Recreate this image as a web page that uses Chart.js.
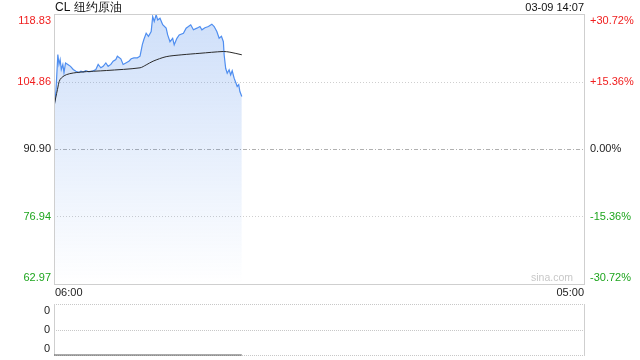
<!DOCTYPE html>
<html><head><meta charset="utf-8">
<script src="https://cdn.jsdelivr.net/npm/chart.js@4/dist/chart.umd.min.js"></script>
<style>
html,body{margin:0;padding:0;background:#fff;}
#wrap{position:relative;width:640px;height:360px;overflow:hidden;}
canvas{position:absolute;left:0;}
</style></head><body>
<div id="wrap">
<canvas id="main" width="640" height="300" style="top:0;width:640px;height:300px"></canvas>
<canvas id="vol" width="640" height="60" style="top:300px;width:640px;height:60px"></canvas>
</div>
<script>
const title = 'CL 纽约原油';
const stamp = '03-09 14:07';
const watermark = 'sina.com';
const timeLabels = ['06:00', '05:00'];
const sessionMinutes = [0, 1380];
const prevClose = 90.90;
const priceTicks = [118.83, 104.86, 90.90, 76.94, 62.97];
const pctLabels = ['+30.72%', '+15.36%', '0.00%', '-15.36%', '-30.72%'];

const minutes = [0, 5, 10, 13, 16, 19, 23, 26, 30, 36, 43, 50, 57, 65, 70, 76, 83, 91, 100, 109, 115, 122, 128, 135, 141, 148, 154, 161, 165, 174, 180, 187, 195, 201, 208, 217, 224, 230, 234, 240, 246, 253, 257, 261, 266, 270, 276, 283, 292, 296, 302, 309, 313, 320, 326, 337, 344, 350, 356, 363, 372, 380, 385, 393, 402, 411, 417, 424, 430, 436, 441, 443, 447, 451, 456, 460, 464, 469, 474, 477, 481, 484, 489];
const prices = [99.5, 102.8, 110.45, 108.4, 109.4, 107.35, 108.4, 106.7, 108.7, 108.4, 108.0, 107.35, 107.0, 106.7, 107.0, 106.8, 107.1, 106.87, 107.0, 107.35, 108.4, 107.7, 108.0, 108.7, 108.0, 108.4, 109.06, 109.4, 110.1, 109.56, 108.4, 108.7, 109.06, 109.56, 109.76, 109.76, 110.1, 112.5, 113.55, 114.86, 114.2, 115.2, 118.31, 117.3, 118.66, 117.6, 117.96, 116.6, 115.9, 114.5, 113.1, 113.8, 112.46, 113.8, 114.5, 114.86, 115.9, 116.24, 116.6, 115.56, 115.9, 116.24, 115.56, 116.0, 116.24, 116.72, 116.24, 115.2, 113.8, 114.2, 113.1, 110.39, 107.6, 106.58, 107.3, 106.25, 107.08, 105.55, 104.5, 103.83, 104.2, 102.8, 101.76];

const avgMinutes = [0, 9, 16, 33, 68, 137, 224, 240, 258, 292, 333, 380, 441, 458, 489];
const avgPrices = [99.7, 103.2, 105.3, 106.3, 106.8, 107.14, 107.7, 108.3, 109.07, 110.0, 110.39, 110.7, 111.07, 110.93, 110.39];

const volMinutes = [0, 489];
const volumes = [0, 0];
const volTickLabels = ['0', '0', '0'];

const FONT = "'Liberation Sans', Arial, sans-serif";
const RED = '#f01e1e', GREEN = '#1ea51e', BLACK = '#222';

function pts(xs, ys) { return xs.map((x, i) => ({x: x, y: ys[i]})); }

function hline(ctx, x1, x2, y, color, dash) {
  ctx.save();
  ctx.strokeStyle = color; ctx.lineWidth = 1; ctx.setLineDash(dash);
  ctx.beginPath(); ctx.moveTo(x1, Math.round(y) + 0.5); ctx.lineTo(x2, Math.round(y) + 0.5); ctx.stroke();
  ctx.restore();
}
function vline(ctx, x, y1, y2, color) {
  ctx.save();
  ctx.strokeStyle = color; ctx.lineWidth = 1;
  ctx.beginPath(); ctx.moveTo(Math.round(x) + 0.5, y1); ctx.lineTo(Math.round(x) + 0.5, y2); ctx.stroke();
  ctx.restore();
}

const mainDeco = {
  id: 'mainDeco',
  beforeDatasetsDraw(chart) {
    const {ctx, chartArea: a, scales: {y}} = chart;
    priceTicks.forEach((v, i) => {
      if (i === 0 || i === priceTicks.length - 1) return;
      const py = y.getPixelForValue(v);
      if (v === prevClose) hline(ctx, a.left, a.right, py, '#b0b0b0', [4, 2, 1, 2]);
      else hline(ctx, a.left, a.right, py, '#cfcfcf', [1, 2]);
    });
  },
  afterDraw(chart) {
    const {ctx, chartArea: a, scales: {x, y}} = chart;
    ctx.save();
    ctx.strokeStyle = '#cfcfcf'; ctx.lineWidth = 1; ctx.setLineDash([]);
    ctx.strokeRect(Math.round(a.left) + 0.5, Math.round(a.top) + 0.5, Math.round(a.right - a.left), Math.round(a.bottom - a.top));
    ctx.font = '11px ' + FONT;
    ctx.textBaseline = 'middle';
    const n = priceTicks.length;
    priceTicks.forEach((v, i) => {
      let py = y.getPixelForValue(v);
      if (i === 0) py += 6.5; else if (i === n - 1) py -= 6;
      const col = v > prevClose ? RED : (v < prevClose ? GREEN : BLACK);
      ctx.fillStyle = col;
      ctx.textAlign = 'right';
      ctx.fillText(v.toFixed(2), a.left - 3, py);
      ctx.textAlign = 'left';
      ctx.fillText(pctLabels[i], a.right + 6, py);
    });
    ctx.fillStyle = '#222';
    ctx.textAlign = 'left';
    ctx.fillText(timeLabels[0], x.getPixelForValue(sessionMinutes[0]) + 1, a.bottom + 9);
    ctx.textAlign = 'right';
    ctx.fillText(timeLabels[1], x.getPixelForValue(sessionMinutes[1]), a.bottom + 9);
    ctx.fillStyle = '#c8c8c8';
    ctx.font = '10.5px ' + FONT;
    ctx.fillText(watermark, a.right - 11, a.bottom - 5.5);
    ctx.fillStyle = '#111';
    ctx.font = '12px ' + FONT;
    ctx.textAlign = 'left';
    ctx.fillText(title, a.left + 1, 8);
    ctx.font = '11px ' + FONT;
    ctx.textAlign = 'right';
    ctx.fillText(stamp, a.right, 7.5);
    ctx.restore();
  }
};

new Chart(document.getElementById('main'), {
  type: 'line',
  data: {
    datasets: [
      {
        data: pts(avgMinutes, avgPrices),
        borderColor: '#2a2a2a', borderWidth: 1, pointRadius: 0, tension: 0.3, fill: false
      },
      {
        data: pts(minutes, prices),
        borderColor: '#4f8ef0', borderWidth: 1.2, pointRadius: 0, tension: 0,
        fill: 'start',
        backgroundColor(ctx) {
          const a = ctx.chart.chartArea;
          if (!a) return 'rgba(80,140,240,0.2)';
          const g = ctx.chart.ctx.createLinearGradient(0, a.top, 0, a.bottom);
          g.addColorStop(0, 'rgba(80,140,235,0.28)');
          g.addColorStop(0.5, 'rgba(80,140,235,0.14)');
          g.addColorStop(1, 'rgba(80,140,235,0.0)');
          return g;
        }
      }
    ]
  },
  options: {
    responsive: false, animation: false, devicePixelRatio: 1,
    layout: {padding: {left: 54, right: 56, top: 14, bottom: 16}},
    plugins: {legend: {display: false}, tooltip: {enabled: false}},
    scales: {
      x: {type: 'linear', min: sessionMinutes[0], max: sessionMinutes[1], display: false},
      y: {min: priceTicks[priceTicks.length - 1], max: priceTicks[0], display: false}
    }
  },
  plugins: [mainDeco]
});

const volDeco = {
  id: 'volDeco',
  beforeDatasetsDraw(chart) {
    const {ctx, chartArea: a} = chart;
    [a.top, (a.top + a.bottom) / 2, a.bottom].forEach(py => hline(ctx, a.left, a.right, py, '#c8c8c8', [1, 1]));
    vline(ctx, a.left, a.top, a.bottom + 1, '#cfcfcf');
    vline(ctx, a.right, a.top, a.bottom + 1, '#cfcfcf');
  },
  afterDraw(chart) {
    const {ctx, chartArea: a} = chart;
    ctx.save();
    ctx.font = '11px ' + FONT;
    ctx.fillStyle = '#222';
    ctx.textAlign = 'right';
    ctx.textBaseline = 'middle';
    const ys = [a.top + 6.5, (a.top + a.bottom) / 2 + 0.5, a.bottom - 6];
    volTickLabels.forEach((t, i) => ctx.fillText(t, a.left - 4, ys[i]));
    ctx.restore();
  }
};

new Chart(document.getElementById('vol'), {
  type: 'line',
  data: {
    datasets: [{
      data: pts(volMinutes, volumes),
      borderColor: '#555', borderWidth: 1, pointRadius: 0, fill: false, clip: 2
    }]
  },
  options: {
    responsive: false, animation: false, devicePixelRatio: 1,
    layout: {padding: {left: 54, right: 56, top: 4, bottom: 5}},
    plugins: {legend: {display: false}, tooltip: {enabled: false}},
    scales: {
      x: {type: 'linear', min: sessionMinutes[0], max: sessionMinutes[1], display: false},
      y: {min: 0, max: 2, display: false}
    }
  },
  plugins: [volDeco]
});
</script>
</body></html>
